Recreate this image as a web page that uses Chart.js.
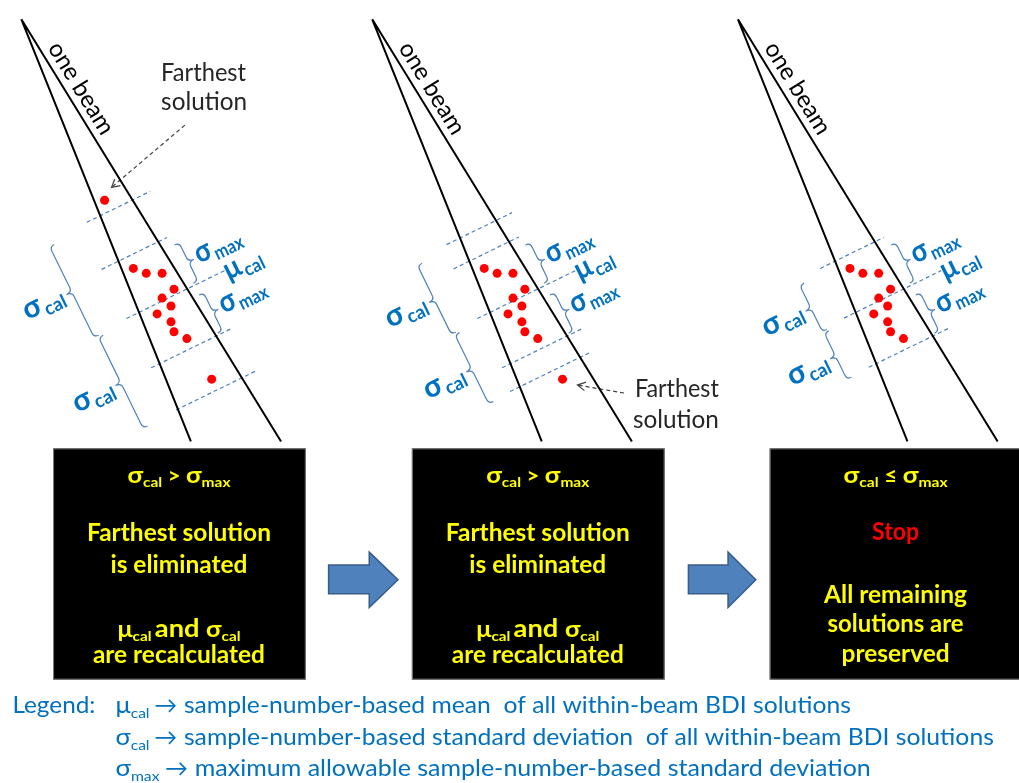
<!DOCTYPE html>
<html>
<head>
<meta charset="utf-8">
<script src="https://cdn.jsdelivr.net/npm/chart.js@4.4.1/dist/chart.umd.min.js"></script>
<style>
  html, body { margin: 0; padding: 0; background: #fff; }
  #wrap { width: 1019px; height: 783px; }
</style>
</head>
<body>
<div id="wrap"><canvas id="myChart" width="1019" height="783"></canvas></div>
<script>
// Three iterations of the same beam, drawn side by side
const panelShift = [0, 354, 723];

// beam: apex and the ends of its two edges (panel 1)
const beamApex = { x: 17, y: 15 };
const beamLeft = { x: 188, y: 442 };
const beamRight = { x: 279, y: 442 };

// BDI solutions inside the beam (panel 1)
const solX = [101, 130, 143, 159, 171, 159, 168, 154, 168, 171, 184, 209];
const solY = [198, 267, 272, 272, 288, 297, 305, 313, 321, 331, 338, 379];
// which solutions are still there at each iteration
const kept = [
    [0, 1, 2, 3, 4, 5, 6, 7, 8, 9, 10, 11],
    [1, 2, 3, 4, 5, 6, 7, 8, 9, 10, 11],
    [1, 2, 3, 4, 5, 6, 7, 8, 9, 10]
];

// dashed levels, read as c = y + slope * x
const slope = 0.49;
const muLevel = 378;
const sigmaMax = 62;
const sigmaCal = [117, 90, 62];

// x extent of each dashed line, top to bottom
const dashFrom = [[83, 98, 123, 148, 173], [92, 99, 123, 148, 156], [100, 124, 149]];
const dashTo = [[147, 164, 223, 230, 255], [158, 165, 224, 229, 238], [164, 222, 230]];

// ---- layout ----
const cosT = 1 / Math.sqrt(1 + slope * slope);
const theta = Math.atan(slope);
const rightBraceU = 52;
const leftBraceU = [[-66, -62], [-59, -56], [-53, -52]];

const farthestFrom = [[182, 122], [625, 393]];
const farthestTo = [[108, 185], [578, 385]];

const boxLeft = [49, 411, 772];
const boxRight = [304, 666, 1025];
const boxTop = 449, boxBottom = 683;
const boxCenter = [176, 538, 899];

const blue = '#0070c0';
const lineBlue = '#4f81bd';
const yellow = '#ffff00';
const F = (w, s) => w + ' ' + s + 'px Lato, "DejaVu Sans", sans-serif';

const ctx = document.getElementById('myChart').getContext('2d');

function levelsFor(p) {
    if (sigmaCal[p] === sigmaMax) return [muLevel - sigmaMax, muLevel, muLevel + sigmaMax];
    return [muLevel - sigmaCal[p], muLevel - sigmaMax, muLevel, muLevel + sigmaMax, muLevel + sigmaCal[p]];
}

let solutionPoints = [];
panelShift.forEach((dx, p) => {
    kept[p].forEach(i => solutionPoints.push({ x: solX[i] + dx, y: solY[i] }));
});

let datasets = [{
    data: solutionPoints,
    showLine: false,
    pointRadius: 4.5,
    pointBackgroundColor: '#ff0000',
    pointBorderWidth: 0
}];

panelShift.forEach((dx, p) => {
    datasets.push({
        data: [
            { x: beamLeft.x + dx, y: beamLeft.y },
            { x: beamApex.x + dx, y: beamApex.y },
            { x: beamRight.x + dx, y: beamRight.y }
        ],
        showLine: true,
        borderColor: '#000',
        borderWidth: 2,
        pointRadius: 0,
        tension: 0
    });
    levelsFor(p).forEach((c, k) => {
        const x1 = dashFrom[p][k], x2 = dashTo[p][k];
        datasets.push({
            data: [{ x: x1 + dx, y: c - slope * x1 }, { x: x2 + dx, y: c - slope * x2 }],
            showLine: true,
            borderColor: lineBlue,
            borderWidth: 1.2,
            borderDash: [4, 3],
            pointRadius: 0
        });
    });
});

farthestFrom.forEach((f, i) => {
    datasets.push({
        data: [{ x: f[0], y: f[1] }, { x: farthestTo[i][0], y: farthestTo[i][1] }],
        showLine: true,
        borderColor: '#404040',
        borderWidth: 1.2,
        borderDash: [4, 3],
        pointRadius: 0
    });
});

// text with subscripts, squeezed to a given width
function drawRich(c, parts, x, y, align, width) {
    let natural = 0;
    parts.forEach(pt => { c.font = pt.font; natural += c.measureText(pt.t).width + (pt.gap || 0); });
    const k = width ? width / natural : 1;
    c.save();
    c.translate(x, y);
    c.scale(k, 1);
    let cx = align === 'center' ? -natural / 2 : align === 'right' ? -natural : 0;
    c.textAlign = 'left';
    c.textBaseline = 'alphabetic';
    parts.forEach(pt => {
        c.font = pt.font;
        if (pt.color) c.fillStyle = pt.color;
        c.fillText(pt.t, cx, pt.dy || 0);
        cx += c.measureText(pt.t).width + (pt.gap || 0);
    });
    c.restore();
}

function brace(c, u0, v1, v2, dir) {
    const h = 5, d = 6, r = 5;
    const vm = (v1 + v2) / 2;
    c.beginPath();
    c.moveTo(u0 - dir * h, v1);
    c.quadraticCurveTo(u0, v1, u0, v1 + r);
    c.lineTo(u0, vm - r);
    c.quadraticCurveTo(u0, vm, u0 + dir * d, vm);
    c.quadraticCurveTo(u0, vm, u0, vm + r);
    c.lineTo(u0, v2 - r);
    c.quadraticCurveTo(u0, v2, u0 - dir * h, v2);
    c.stroke();
}

const label = (g, s) => [{ t: g, font: F('bold', 30), gap: 2 }, { t: s, font: F('bold', 19), dy: 5 }];

const diagram = {
    id: 'diagram',
    afterDatasetsDraw(chart) {
        const c = chart.ctx;
        const X = v => chart.scales.x.getPixelForValue(v);
        const Y = v => chart.scales.y.getPixelForValue(v);

        // braces and labels, in the frame of the dashed lines
        panelShift.forEach((dx, p) => {
            c.save();
            c.translate(X(dx), Y(0));
            c.rotate(-theta);
            c.strokeStyle = lineBlue;
            c.lineWidth = 1.2;
            const vMu = muLevel * cosT;
            const vMaxUp = (muLevel - sigmaMax) * cosT;
            const vMaxDn = (muLevel + sigmaMax) * cosT;
            const vCalUp = (muLevel - sigmaCal[p]) * cosT;
            const vCalDn = (muLevel + sigmaCal[p]) * cosT;
            brace(c, rightBraceU, vMaxUp + 7, vMu - 6, 1);
            brace(c, rightBraceU, vMu + 7, vMaxDn - 6, 1);
            brace(c, leftBraceU[p][0], vCalUp + 3, vMu - 1, -1);
            brace(c, leftBraceU[p][1], vMu + 1, vCalDn - 3, -1);

            c.fillStyle = blue;
            drawRich(c, label('σ', 'max'), 61, (vMaxUp + vMu) / 2 + 7, 'left', 49);
            drawRich(c, label('σ', 'max'), 61, (vMaxDn + vMu) / 2 + 7, 'left', 49);
            drawRich(c, label('μ', 'cal'), 80, vMu + 7, 'left', 40);
            drawRich(c, label('σ', 'cal'), leftBraceU[p][0] - 9, (vCalUp + vMu) / 2 + 7, 'right', 43);
            drawRich(c, label('σ', 'cal'), leftBraceU[p][1] - 9, (vCalDn + vMu) / 2 + 7, 'right', 43);
            c.restore();

            // "one beam" along the right edge
            const ax = X(beamApex.x + dx), ay = Y(beamApex.y);
            const ang = Math.atan2(Y(beamRight.y) - ay, X(beamRight.x + dx) - ax);
            c.save();
            c.translate(ax, ay);
            c.rotate(ang);
            c.fillStyle = '#000';
            drawRich(c, [{ t: 'one beam', font: F('normal', 24) }], 90, -7, 'center', 104);
            c.restore();
        });

        // open arrowheads of the "Farthest solution" pointers
        c.save();
        c.strokeStyle = '#404040';
        c.lineWidth = 1.2;
        farthestTo.forEach((t, i) => {
            const tx = X(t[0]), ty = Y(t[1]);
            const a = Math.atan2(ty - Y(farthestFrom[i][1]), tx - X(farthestFrom[i][0]));
            c.beginPath();
            c.moveTo(tx - 9 * Math.cos(a - 0.5), ty - 9 * Math.sin(a - 0.5));
            c.lineTo(tx, ty);
            c.lineTo(tx - 9 * Math.cos(a + 0.5), ty - 9 * Math.sin(a + 0.5));
            c.stroke();
        });
        c.fillStyle = '#262626';
        drawRich(c, [{ t: 'Farthest', font: F('normal', 25) }], X(158), Y(77), 'left', 85);
        drawRich(c, [{ t: 'solution', font: F('normal', 25) }], X(158), Y(107), 'left', 86);
        drawRich(c, [{ t: 'Farthest', font: F('normal', 25) }], X(636), Y(397), 'left', 84);
        drawRich(c, [{ t: 'solution', font: F('normal', 25) }], X(634), Y(428), 'left', 86);
        c.restore();

        // black boxes
        c.save();
        boxLeft.forEach((l, i) => {
            c.fillStyle = '#000';
            c.fillRect(X(l), Y(boxTop), X(boxRight[i]) - X(l), Y(boxBottom) - Y(boxTop));
            c.strokeStyle = '#7f7f7f';
            c.lineWidth = 1;
            c.strokeRect(X(l) + 0.5, Y(boxTop) + 0.5, X(boxRight[i]) - X(l) - 1, Y(boxBottom) - Y(boxTop) - 1);
        });
        [0, 1].forEach(i => {
            const cx = X(boxCenter[i]);
            c.fillStyle = yellow;
            drawRich(c, [
                { t: 'σ', font: F('bold', 23) }, { t: 'cal', font: F('bold', 14), dy: 4, gap: 5 },
                { t: '>', font: F('bold', 20), gap: 5 },
                { t: 'σ', font: F('bold', 23) }, { t: 'max', font: F('bold', 14), dy: 4 }
            ], cx, Y(484), 'center', 103);
            drawRich(c, [{ t: 'Farthest solution', font: F('bold', 25) }], cx, Y(543), 'center', 184);
            drawRich(c, [{ t: 'is eliminated', font: F('bold', 25) }], cx, Y(575), 'center', 137);
            drawRich(c, [
                { t: 'μ', font: F('bold', 23) }, { t: 'cal', font: F('bold', 14), dy: 4, gap: 3 },
                { t: 'and ', font: F('bold', 25) },
                { t: 'σ', font: F('bold', 23) }, { t: 'cal', font: F('bold', 14), dy: 4 }
            ], cx, Y(640), 'center', 123);
            drawRich(c, [{ t: 'are recalculated', font: F('bold', 25) }], cx, Y(666), 'center', 172);
        });
        const c3 = X(boxCenter[2]);
        c.fillStyle = yellow;
        drawRich(c, [
            { t: 'σ', font: F('bold', 23) }, { t: 'cal', font: F('bold', 14), dy: 4, gap: 5 },
            { t: '≤', font: F('bold', 20), gap: 5 },
            { t: 'σ', font: F('bold', 23) }, { t: 'max', font: F('bold', 14), dy: 4 }
        ], c3, Y(484), 'center', 104);
        c.fillStyle = '#ff0000';
        drawRich(c, [{ t: 'Stop', font: F('bold', 25) }], c3, Y(542), 'center', 47);
        c.fillStyle = yellow;
        drawRich(c, [{ t: 'All remaining', font: F('bold', 25) }], c3, Y(605), 'center', 143);
        drawRich(c, [{ t: 'solutions are', font: F('bold', 25) }], c3, Y(635), 'center', 136);
        drawRich(c, [{ t: 'preserved', font: F('bold', 25) }], c3, Y(665), 'center', 108);
        c.restore();

        // block arrows between the boxes
        c.save();
        c.fillStyle = '#4f81bd';
        c.strokeStyle = '#385d8a';
        c.lineWidth = 1.5;
        [[327, 368, 397], [690, 730, 758]].forEach(a => {
            c.beginPath();
            c.moveTo(X(a[0]), Y(567));
            c.lineTo(X(a[1]), Y(567));
            c.lineTo(X(a[1]), Y(554));
            c.lineTo(X(a[2]), Y(582));
            c.lineTo(X(a[1]), Y(610));
            c.lineTo(X(a[1]), Y(596));
            c.lineTo(X(a[0]), Y(596));
            c.closePath();
            c.fill();
            c.stroke();
        });
        c.restore();

        // legend
        c.save();
        c.fillStyle = blue;
        const lf = F('normal', 23);
        const sub = s => ({ t: s, font: F('normal', 14), dy: 5 });
        drawRich(c, [{ t: 'Legend:', font: lf }], X(8), Y(717), 'left', 83);
        drawRich(c, [{ t: 'μ', font: lf }, sub('cal')], X(112), Y(717), 'left', 34);
        drawRich(c, [{ t: 'σ', font: lf }, sub('cal')], X(112), Y(749), 'left', 34);
        drawRich(c, [{ t: 'σ', font: lf }, sub('max')], X(112), Y(780), 'left', 44);
        drawRich(c, [{ t: '→', font: lf }], X(151), Y(717), 'left', 23);
        drawRich(c, [{ t: '→', font: lf }], X(151), Y(749), 'left', 23);
        drawRich(c, [{ t: '→', font: lf }], X(162), Y(780), 'left', 23);
        drawRich(c, [{ t: 'sample-number-based mean  of all within-beam BDI solutions', font: lf }], X(181), Y(717), 'left', 667);
        drawRich(c, [{ t: 'sample-number-based standard deviation  of all within-beam BDI solutions', font: lf }], X(181), Y(749), 'left', 810);
        drawRich(c, [{ t: 'maximum allowable sample-number-based standard deviation', font: lf }], X(192), Y(780), 'left', 676);
        c.restore();
    }
};

const myChart = new Chart(ctx, {
    type: 'scatter',
    data: { datasets: datasets },
    options: {
        responsive: false,
        animation: false,
        layout: { padding: 0 },
        plugins: {
            legend: { display: false },
            tooltip: { enabled: false }
        },
        scales: {
            x: { type: 'linear', min: 0, max: 1019, display: false },
            y: { type: 'linear', min: 0, max: 783, reverse: true, display: false }
        }
    },
    plugins: [diagram]
});
</script>
</body>
</html>
